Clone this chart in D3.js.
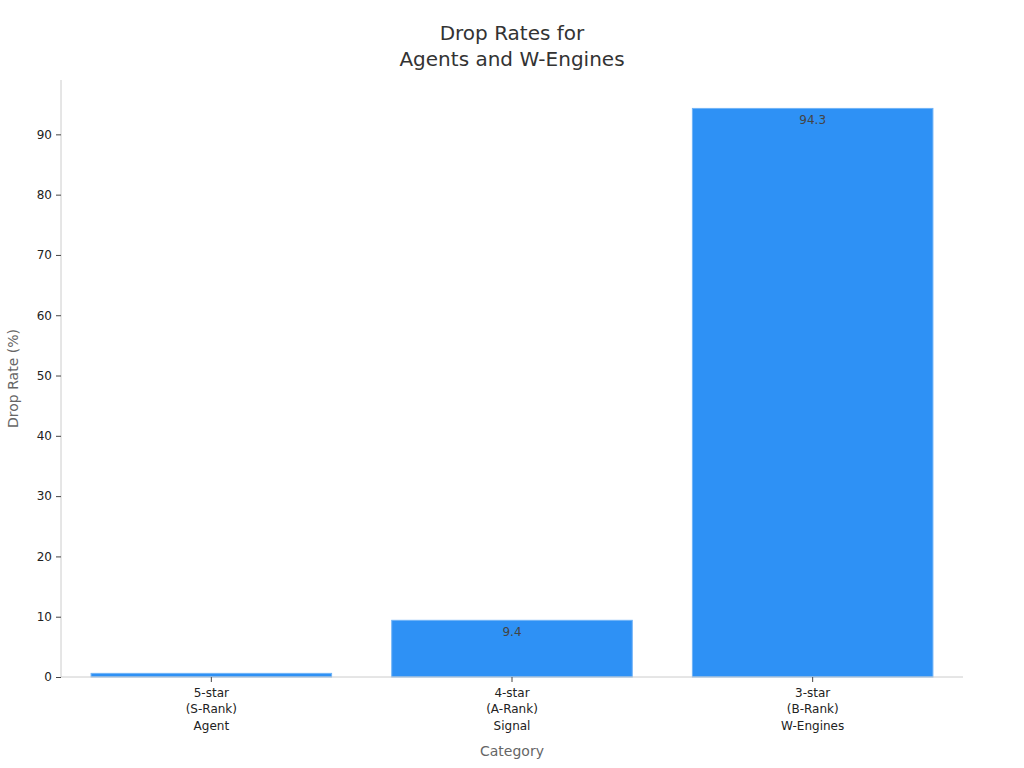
<!DOCTYPE html>
<html>
<head>
<meta charset="utf-8">
<script src="https://cdn.jsdelivr.net/npm/d3@7"></script>
<style>
    body { margin: 0; background: #fff; }
    svg text { font-family: "DejaVu Sans", sans-serif; }
    .tick text { fill: #222; font-size: 12px; }
</style>
</head>
<body>
<svg id="chart" width="1024" height="768"></svg>
<script>
// カテゴリと値
const categories = ['5-star\n(S-Rank)\nAgent', '4-star\n(A-Rank)\nSignal', '3-star\n(B-Rank)\nW-Engines'];
const dropRates = [0.6, 9.4, 94.3];
const yTicks = [0, 10, 20, 30, 40, 50, 60, 70, 80, 90];

const margin = { top: 80, right: 61, bottom: 91, left: 61 };
const width = 1024 - margin.left - margin.right;
const height = 768 - margin.top - margin.bottom;

const svg = d3.select('#chart');
const g = svg.append('g').attr('transform', `translate(${margin.left},${margin.top})`);

const x = d3.scaleBand()
    .domain(categories)
    .range([0, width])
    .paddingInner(0.2)
    .paddingOuter(0.1);

const y = d3.scaleLinear()
    .domain([0, d3.max(dropRates) * 1.05])
    .range([height, 0]);

// タイトル
svg.append('text')
    .attr('x', 512).attr('y', 40)
    .attr('text-anchor', 'middle')
    .attr('font-size', 20).attr('fill', '#333')
    .text('Drop Rates for');
svg.append('text')
    .attr('x', 512).attr('y', 66)
    .attr('text-anchor', 'middle')
    .attr('font-size', 20).attr('fill', '#333')
    .text('Agents and W-Engines');

// 棒
const data = categories.map((c, i) => ({ cat: c, value: dropRates[i] }));

const bars = g.append('g').selectAll('g')
    .data(data)
    .enter().append('g');

bars.append('rect')
    .attr('x', d => x(d.cat))
    .attr('y', d => y(d.value))
    .attr('width', x.bandwidth())
    .attr('height', d => height - y(d.value))
    .attr('fill', '#2e91f5')
    .attr('stroke', '#6fb3f7')
    .attr('stroke-width', 1);

// 値ラベル（棒に収まるものだけ）
bars.filter(d => height - y(d.value) > 16)
    .append('text')
    .attr('x', d => x(d.cat) + x.bandwidth() / 2)
    .attr('y', d => y(d.value) + 16)
    .attr('text-anchor', 'middle')
    .attr('font-size', 12).attr('fill', '#444')
    .text(d => d.value);

// Y軸
const yAxis = g.append('g')
    .call(d3.axisLeft(y).tickValues(yTicks).tickSize(5).tickPadding(4));
yAxis.attr('font-family', null);
yAxis.select('.domain').attr('stroke', '#ccc').attr('d', `M0,0V${height}`);
yAxis.selectAll('.tick line').attr('stroke', '#444');

// X軸
const xAxis = g.append('g')
    .attr('transform', `translate(0,${height})`)
    .call(d3.axisBottom(x).tickSize(5).tickPadding(5));
xAxis.attr('font-family', null);
xAxis.select('.domain').attr('stroke', '#ccc').attr('d', `M0,0H${width}`);
xAxis.selectAll('.tick line').attr('stroke', '#444');
xAxis.selectAll('.tick text').each(function(d) {
    const t = d3.select(this);
    const lines = d.split('\n');
    t.text(null);
    lines.forEach((line, i) => {
        t.append('tspan')
            .attr('x', 0)
            .attr('dy', i === 0 ? '0.8em' : '1.4em')
            .text(line);
    });
});

// 軸タイトル
svg.append('text')
    .attr('x', margin.left + width / 2).attr('y', 756)
    .attr('text-anchor', 'middle')
    .attr('font-size', 14).attr('fill', '#666')
    .text('Category');
svg.append('text')
    .attr('transform', `translate(18,${margin.top + height / 2}) rotate(-90)`)
    .attr('text-anchor', 'middle')
    .attr('font-size', 14).attr('fill', '#666')
    .text('Drop Rate (%)');
</script>
</body>
</html>
